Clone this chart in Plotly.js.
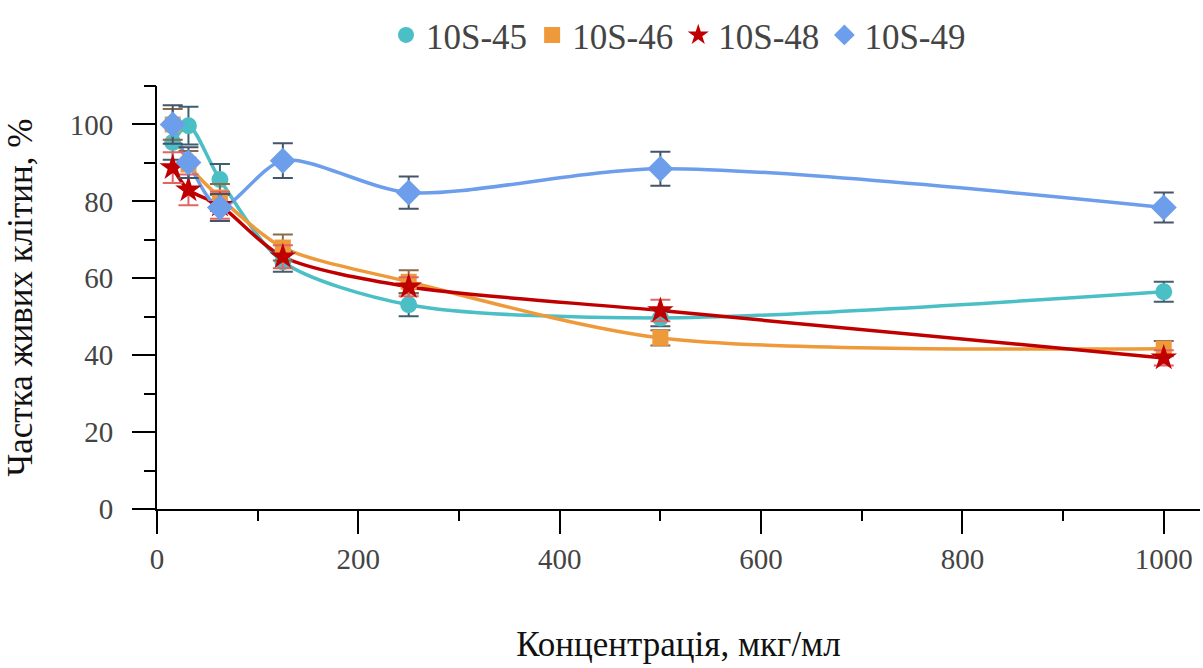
<!DOCTYPE html>
<html><head><meta charset="utf-8">
<script src="https://cdn.plot.ly/plotly-3.0.1.min.js"></script>
<style>
html,body{margin:0;padding:0;background:#fff}#chart{width:1203px;height:668px}
</style>
</head><body><div id="chart"></div>
<script>
const conc = [15.6, 31.25, 62.5, 125, 250, 500, 1000];
const names = ["10S-45", "10S-46", "10S-48", "10S-49"];
const s45 = [95.3, 99.7, 85.7, 64.3, 53.1, 49.7, 56.5];
const e45 = [4.5, 4.9, 4.0, 2.6, 3.0, 2.2, 2.6];
const s46 = [100.0, 89.6, 81.0, 68.0, 59.1, 44.5, 41.7];
const e46 = [4.0, 3.5, 3.5, 3.4, 3.0, 2.0, 2.0];
const s48 = [88.8, 83.0, 79.0, 65.6, 57.8, 51.6, 39.3];
const e48 = [4.0, 4.0, 3.5, 3.0, 2.5, 2.8, 2.0];
const s49 = [100.0, 90.1, 78.4, 90.6, 82.3, 88.5, 78.4];
const e49 = [5.0, 4.0, 3.5, 4.5, 4.2, 4.4, 3.9];

const series = [s45, s46, s48, s49];
const errs = [e45, e46, e48, e49];
const colors = ["#4bbfc6", "#ee9a3a", "#c00000", "#6d9eeb"];
const errColors = ["#3f5f6e", "#8a6a4a", "#e06666", "#44546a"];
const symbols = ["circle", "square", "star", "diamond"];
const sizes = [17, 16, 20, 20];
const FF = "Liberation Serif";

const lineTraces = series.map((s, i) => ({
  x: conc, y: s, name: names[i], type: "scatter", mode: "lines", showlegend: false,
  line: {color: colors[i], width: 3.5, shape: "spline", smoothing: 0.8}
}));
const markerTraces = series.map((s, i) => ({
  x: conc, y: s, name: names[i], type: "scatter", mode: "markers",
  marker: {color: colors[i], symbol: symbols[i], size: sizes[i]},
  error_y: {type: "data", array: errs[i], visible: true, color: errColors[i], thickness: 2, width: 10}
}));
// invisible traces carrying the overlay axes that draw the tick marks
const minorTrace = {x: conc, y: s45, xaxis: "x2", yaxis: "y2", type: "scatter", mode: "markers",
  marker: {opacity: 0}, showlegend: false, hoverinfo: "skip"};
const majorYTrace = {x: conc, y: s45, xaxis: "x", yaxis: "y3", type: "scatter", mode: "markers",
  marker: {opacity: 0}, showlegend: false, hoverinfo: "skip"};

const xRange = [0, 1036];
const yRange = [0, 110.01];

const layout = {
  width: 1203, height: 668,
  margin: {l: 157, r: 3, t: 86, b: 159},
  showlegend: true,
  legend: {orientation: "h", x: 0.5, xanchor: "center", y: 1.19, yanchor: "top",
           font: {family: FF, size: 35}},
  xaxis: {
    range: xRange, showgrid: false, zeroline: false, showline: true, linecolor: "#000", linewidth: 2,
    tickmode: "linear", tick0: 0, dtick: 200, ticks: "outside", ticklen: 23, tickcolor: "#000", tickwidth: 2,
    tickfont: {family: FF, size: 29},
    title: {text: "Концентрація, мкг/мл", font: {family: FF, size: 35, color: "#111"}, standoff: 58}
  },
  yaxis: {
    range: yRange, showgrid: false, zeroline: false, showline: true, linecolor: "#000", linewidth: 2,
    tickmode: "linear", tick0: 0, dtick: 20, ticks: "outside", ticklen: 36, tickcolor: "rgba(0,0,0,0)", tickwidth: 2,
    tickfont: {family: FF, size: 29},
    title: {text: "Частка живих клітин, %", font: {family: FF, size: 35, color: "#111"}, standoff: 26}
  },
  xaxis2: {
    overlaying: "x", anchor: "y2", side: "bottom", range: xRange, showgrid: false, zeroline: false, showline: false,
    tickmode: "linear", tick0: 0, dtick: 100, ticks: "outside", ticklen: 11, tickcolor: "#000", tickwidth: 2,
    showticklabels: false
  },
  yaxis2: {
    overlaying: "y", anchor: "x2", side: "left", range: yRange, showgrid: false, zeroline: false, showline: false,
    tickmode: "linear", tick0: 0, dtick: 10, ticks: "outside", ticklen: 12, tickcolor: "#000", tickwidth: 2,
    showticklabels: false
  },
  yaxis3: {
    overlaying: "y", anchor: "x", side: "left", range: yRange, showgrid: false, zeroline: false, showline: false,
    tickmode: "linear", tick0: 0, dtick: 20, ticks: "outside", ticklen: 24, tickcolor: "#000", tickwidth: 2,
    showticklabels: false
  }
};
Plotly.newPlot("chart", lineTraces.concat(markerTraces, [minorTrace, majorYTrace]), layout, {staticPlot: true});
</script></body></html>
